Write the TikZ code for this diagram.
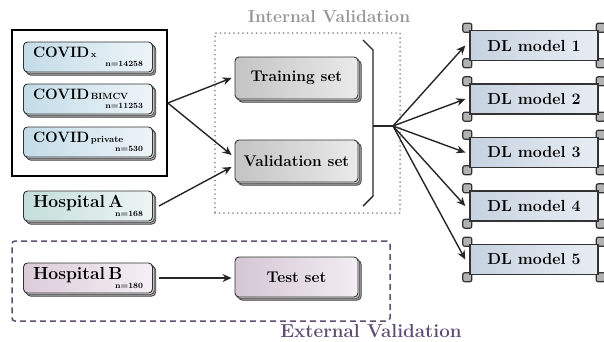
\documentclass[tikz,border=0pt]{standalone}
\usepackage{fontspec}
\usepackage{xcolor}
\usepackage{tikz}
\usetikzlibrary{arrows.meta, positioning, calc, shadows, backgrounds}
\definecolor{covidblue}{RGB}{196,220,232}
\definecolor{hospagreen}{RGB}{196,222,218}
\definecolor{hospbpink}{RGB}{220,204,218}
\definecolor{setgray}{RGB}{196,196,196}
\definecolor{testpink}{RGB}{212,198,212}
\definecolor{dlblue}{RGB}{198,210,224}
\definecolor{extpurple}{RGB}{96,78,114}
\definecolor{intgray}{RGB}{150,150,150}

% title, subscript and count of a source box
\newcommand{\srctext}[4]{{\fontsize{#1}{#1}\selectfont #2}{\fontsize{9}{9}\selectfont\,#3}\\[-3pt]\hspace*{\fill}{\fontsize{8}{9}\selectfont n=#4}\hspace*{6pt}}

\begin{document}
\begin{tikzpicture}[x=1pt, y=-1pt,
  stacked/.style={draw=black!80, line width=0.9pt, rounded corners=4pt,
    copy shadow={shadow xshift=3.2pt, shadow yshift=-3.2pt, draw=black!75, fill=black!40, line width=0.7pt},
    copy shadow={shadow xshift=1.6pt, shadow yshift=-1.6pt, draw=black!75, fill=black!15, line width=0.7pt}},
  srcbox/.style={stacked, minimum width=129pt, minimum height=30pt, text width=110pt, align=left, inner sep=0pt, font=\bfseries},
  setbox/.style={stacked, minimum width=123pt, minimum height=42pt, inner sep=0pt, font=\bfseries\fontsize{15.5}{16}\selectfont},
  dlbox/.style={draw=black!80, line width=1.4pt, minimum width=128pt, minimum height=30pt, inner sep=0pt, left color=dlblue, right color=dlblue!40!white, font=\bfseries\fontsize{16}{16}\selectfont},
  dltab/.style={draw=black!80, line width=1.2pt, fill=black!30, rounded corners=2pt},
  link/.style={line width=1.4pt, draw=black!85, -{Stealth[length=9pt, width=8pt]}},
  brace/.style={line width=1.4pt, draw=black!85}]
  \useasboundingbox (0,0) rectangle (604,341);

  % Validation frames
  \node[draw=intgray, line width=2pt, line cap=round, dash pattern=on 0pt off 4.5pt, minimum width=185pt, minimum height=180pt, inner sep=0pt] (intval) at (307.5,123) {};
  \node[font=\bfseries\fontsize{17.4}{18}\selectfont, text=intgray] (intlabel) at (329,17) {Internal Validation};
  \node[draw=extpurple, line width=1.5pt, dash pattern=on 6pt off 4pt, rounded corners=3pt, minimum width=378pt, minimum height=80pt, inner sep=0pt] (extval) at (201,281) {};
  \node[font=\bfseries\fontsize{18.8}{19}\selectfont, text=extpurple] (extlabel) at (371,331) {External Validation};

  % Source datasets
  \node[draw, line width=1.6pt, minimum width=155pt, minimum height=146pt, inner sep=0pt] (covidgroup) at (89.5,103) {};
  \node[srcbox, left color=covidblue, right color=covidblue!30!white] (covidx) at (88,57) {\srctext{15}{COVID}{x}{14258}};
  \node[srcbox, left color=covidblue, right color=covidblue!30!white] (covidbimcv) at (88,99) {\srctext{15}{COVID}{BIMCV}{11253}};
  \node[srcbox, left color=covidblue, right color=covidblue!30!white] (covidpriv) at (88,142) {\srctext{15}{COVID}{private}{530}};
  \node[srcbox, left color=hospagreen, right color=hospagreen!30!white] (hospA) at (88,206) {\srctext{17.5}{Hospital A}{}{168}};
  \node[srcbox, left color=hospbpink, right color=hospbpink!30!white] (hospB) at (88,278) {\srctext{17.5}{Hospital B}{}{180}};

  % Splits
  \node[setbox, left color=setgray, right color=setgray!35!white] (train) at (296.5,78) {Training set};
  \node[setbox, left color=setgray, right color=setgray!35!white] (valid) at (296.5,161) {Validation set};
  \node[setbox, minimum height=40pt, left color=testpink, right color=testpink!30!white] (test) at (296.5,277) {Test set};

  \draw[link] (covidgroup.east) -- ([xshift=-3pt]train.west);
  \draw[link] (covidgroup.east) -- ([xshift=-3pt, yshift=6pt]valid.west);
  \draw[link] ([xshift=6pt]hospA.east) -- ([xshift=-3pt, yshift=-6pt]valid.west);
  \draw[link] ([xshift=6pt]hospB.east) -- ([xshift=-3pt]test.west |- hospB.east);

  % Bracket and hub
  \coordinate (brtop) at (363,40);
  \coordinate (brbot) at (363,206);
  \coordinate (brmid) at (373,126);
  \coordinate (hub) at (393,126);
  \draw[brace] (brtop) -- (373,50) -- (373,196) -- (brbot);
  \draw[brace] (brmid) -- (hub);

  % DL models
  \foreach \i in {1,...,5} {
    \node[dlbox] (dl\i) at (534,{45.5+53.5*(\i-1)}) {DL model \i};
    \begin{scope}[on background layer]
      \foreach \c/\dx/\dy in {north west/-2/2, north east/2/2, south west/-2/-2, south east/2/-2}
        \draw[dltab] ([shift={(\dx pt,\dy pt)}]dl\i.\c) ++(-4.5pt,-4.5pt) rectangle ++(9pt,9pt);
    \end{scope}
    \draw[link] (hub) -- ([xshift=-4pt]dl\i.west);
  }
\end{tikzpicture}
\end{document}
